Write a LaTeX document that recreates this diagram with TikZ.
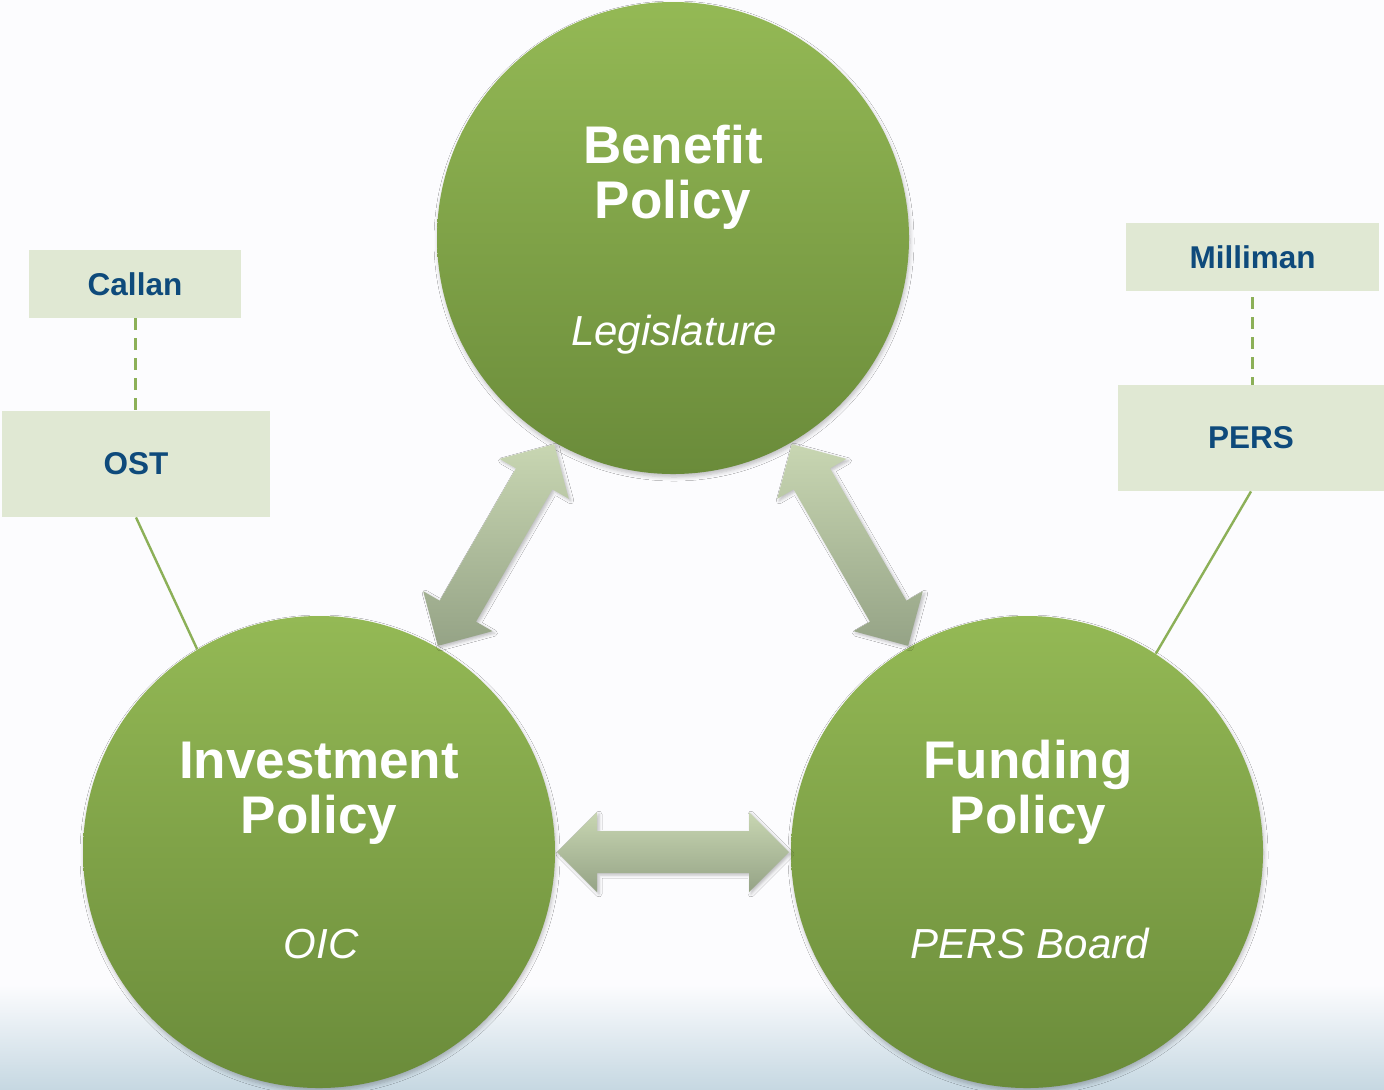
\documentclass[tikz,border=0pt]{standalone}
\usepackage{fontspec}
\setmainfont{Liberation Sans}
\usetikzlibrary{calc,shadows.blur}
\definecolor{circtop}{HTML}{94B955}
\definecolor{circbot}{HTML}{6A8B3A}
\definecolor{arrtop}{HTML}{C8D6B2}
\definecolor{arrbot}{HTML}{95A386}
\definecolor{boxfill}{HTML}{E0E8D3}
\definecolor{boxtext}{HTML}{0E4A7B}
\definecolor{linkgreen}{HTML}{8CB058}
\definecolor{bgblue}{HTML}{C6D8E2}
\definecolor{bgwhite}{HTML}{FCFCFE}
\newcommand{\dblarrow}[3]{%
  \coordinate (#3tA) at ($(#1.center)!119pt!(#2.center)$);
  \coordinate (#3tB) at ($(#2.center)!119pt!(#1.center)$);
  \coordinate (#3bA) at ($(#3tA)!20pt!(#3tB)$);
  \coordinate (#3bB) at ($(#3tB)!20pt!(#3tA)$);
  \shade[arrowshade] (#3tA)
    -- ($(#3bA)!20pt!90:(#3tB)$) -- ($(#3bA)!10.5pt!90:(#3tB)$)
    -- ($(#3bB)!10.5pt!-90:(#3tA)$) -- ($(#3bB)!20pt!-90:(#3tA)$)
    -- (#3tB)
    -- ($(#3bB)!20pt!90:(#3tA)$) -- ($(#3bB)!10.5pt!90:(#3tA)$)
    -- ($(#3bA)!10.5pt!-90:(#3tB)$) -- ($(#3bA)!20pt!-90:(#3tB)$)
    -- cycle;}
\begin{document}
\begin{tikzpicture}[x=0.5pt,y=-0.5pt,
  policy/.style={circle, minimum size=236pt, inner sep=0pt,
    top color=circtop, bottom color=circbot, draw=none,
    blur shadow={shadow blur steps=5, shadow blur radius=2pt, shadow xshift=0.5pt, shadow yshift=-1.5pt, shadow opacity=25}},
  title/.style={anchor=base, text=white, font=\fontsize{26.5}{27.5}\selectfont\bfseries, inner sep=0pt},
  who/.style={anchor=base, text=white, font=\fontsize{21}{22}\selectfont\itshape, inner sep=0pt},
  advisor/.style={rectangle, fill=boxfill, inner sep=0pt, text=boxtext,
    font=\fontsize{15.75}{17}\selectfont\bfseries},
  arrowshade/.style={top color=arrtop, bottom color=arrbot,
    blur shadow={shadow blur steps=4, shadow blur radius=1.5pt, shadow xshift=1pt, shadow yshift=-1pt, shadow opacity=25}},
  dashlink/.style={draw=linkgreen, line width=1.5pt, dash pattern=on 6pt off 4pt},
  solidlink/.style={draw=linkgreen, line width=1.2pt}]
\useasboundingbox (0,0) rectangle (1384,1089);
\fill[bgwhite] (0,0) rectangle (1384,1089);
\shade[top color=bgwhite, bottom color=bgblue] (0,985) rectangle (1384,1089);

% circles
\node[policy] (ben) at (673,238) {};
\node[policy] (inv) at (319,852) {};
\node[policy] (fund) at (1027,852) {};

% arrows
\dblarrow{inv}{ben}{l}
\dblarrow{ben}{fund}{r}
\dblarrow{inv}{fund}{h}

% circle texts
\node[title] (ben1) at (673,163) {Benefit};
\node[title] (ben2) at (673,218) {Policy};
\node[who] (ben3) at (674,345) {Legislature};
\node[title] (inv1) at (319,778) {Investment};
\node[title] (inv2) at (319,833) {Policy};
\node[who] (inv3) at (321,958) {OIC};
\node[title] (fund1) at (1028,778) {Funding};
\node[title] (fund2) at (1028,833) {Policy};
\node[who] (fund3) at (1030,958) {PERS Board};

% advisor boxes
\node[advisor, minimum width=106pt, minimum height=34pt] (callan) at (135,284) {Callan};
\node[advisor, minimum width=134pt, minimum height=53pt] (ost) at (136,464) {OST};
\node[advisor, minimum width=126.5pt, minimum height=34pt] (milliman) at (1252.5,257) {Milliman};
\node[advisor, minimum width=133pt, minimum height=53pt] (pers) at (1251,438) {PERS};

% links
\draw[dashlink] (callan.south) -- (callan.south |- ost.north);
\draw[dashlink] ($(milliman.south)+(0,6)$) -- (milliman.south |- pers.north);
\draw[solidlink] (ost.south) -- (inv.121);
\draw[solidlink] (pers.south) -- (fund.57);
\end{tikzpicture}
\end{document}
